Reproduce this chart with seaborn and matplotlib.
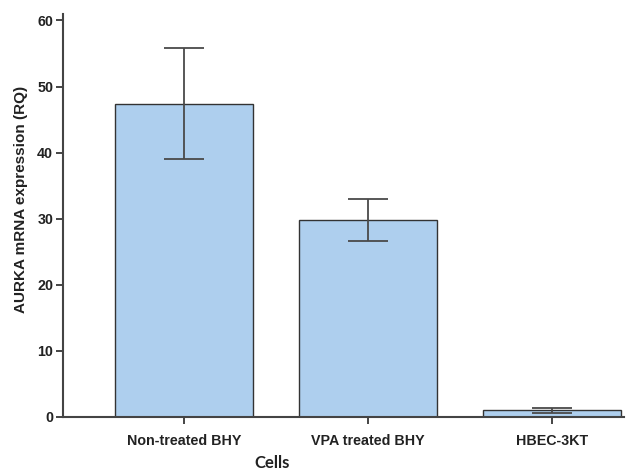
import matplotlib
matplotlib.use("Agg")
import matplotlib.pyplot as plt
import seaborn as sns
import pandas as pd

# Relative AURKA expression per cell line (mean and error half-width)
cells = ["Non-treated BHY", "VPA treated BHY", "HBEC-3KT"]
rq_mean = [47.4, 29.8, 1.0]
rq_err = [8.4, 3.2, 0.35]
y_ticks = [0, 10, 20, 30, 40, 50, 60]

df = pd.DataFrame({"Cells": cells, "RQ": rq_mean})

sns.set_theme(style="white")
plt.rcParams["font.family"] = ["Liberation Sans", "DejaVu Sans"]

fig = plt.figure(figsize=(6.29, 4.73), dpi=100)
ax = fig.add_axes([0.100, 0.1184, 0.892, 0.8524])

sns.barplot(data=df, x="Cells", y="RQ", ax=ax, color="#aecfee",
            saturation=1, width=0.75, edgecolor="#333333", linewidth=1.0,
            errorbar=None)

ax.errorbar(range(len(cells)), rq_mean, yerr=rq_err, fmt="none",
            ecolor="#4a4a4a", elinewidth=1.3, capsize=14.5, capthick=1.3,
            zorder=5)

ax.set_xlim(-0.661, 2.392)
ax.set_ylim(0, 61)
ax.set_yticks(y_ticks)
ax.set_yticklabels([str(t) for t in y_ticks])

for side in ("top", "right"):
    ax.spines[side].set_visible(False)
for side in ("left", "bottom"):
    ax.spines[side].set_color("#444444")
    ax.spines[side].set_linewidth(1.5)

ax.tick_params(axis="both", which="major", direction="out", length=5,
               width=1.4, color="#444444", labelcolor="#222222",
               labelsize=10.3, left=True, bottom=True)
ax.tick_params(axis="x", pad=7)
ax.tick_params(axis="y", pad=2)
for lbl in ax.get_xticklabels() + ax.get_yticklabels():
    lbl.set_fontweight("bold")

ax.set_ylabel("AURKA mRNA expression (RQ)", fontsize=11, fontweight="bold",
              color="#222222")
ax.yaxis.set_label_coords(-0.062, 0.54)
ax.set_xlabel("Cells", fontsize=12, fontweight="bold", color="#222222",
              family=["Lato", "DejaVu Sans"])
ax.xaxis.set_label_coords(0.372, -0.095)

fig.savefig("out.png", dpi=100)
